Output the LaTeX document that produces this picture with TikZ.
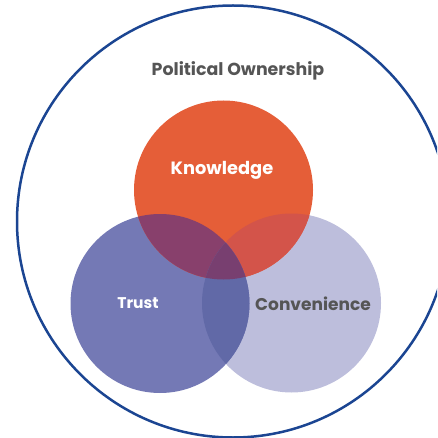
\documentclass[tikz,border=0pt]{standalone}
\usepackage{fontspec}
\setmainfont{Poppins}
\usepackage{tikz}

\definecolor{ring}{HTML}{1B4592}
\definecolor{knowfill}{HTML}{E55E38}
\definecolor{trustfill}{HTML}{7479B5}
\definecolor{convfill}{HTML}{BDBEDC}
\definecolor{kt}{HTML}{88406C}
\definecolor{kc}{HTML}{D3544A}
\definecolor{tc}{HTML}{6169A7}
\definecolor{ktc}{HTML}{783F70}
\definecolor{labelgrey}{HTML}{555555}

\begin{document}
\begin{tikzpicture}[x=1pt,y=-1pt,
	set/.style={circle, minimum size=179pt, inner sep=0pt}]
\useasboundingbox (0,0) rectangle (437,438);
\clip (0,0) rectangle (437,438);
\node [circle, draw=ring, line width=2.5pt, minimum size=432pt, inner sep=0pt] (own) at (233,221.5) {};
\node [text=labelgrey, font=\bfseries\fontsize{17.4}{20}\selectfont] (title) at (238,71) {Political Ownership};
\node [set, fill=convfill] (conv) at (291.5,303) {};
\node [set, fill=trustfill] (trust) at (160,303.5) {};
\node [set, fill=knowfill] (know) at (223.5,190) {};
% overlaps
\begin{scope}
	\clip (know) circle (89.5pt);
	\fill [kc] (conv) circle (89.5pt);
	\fill [kt] (trust) circle (89.5pt);
\end{scope}
\begin{scope}
	\clip (trust) circle (89.5pt);
	\fill [tc] (conv) circle (89.5pt);
	\clip (know) circle (89.5pt);
	\fill [ktc] (conv) circle (89.5pt);
\end{scope}
\node [text=white, font=\bfseries\fontsize{17.8}{20}\selectfont] (knowtext) at (222,170) {Knowledge};
\node [text=white, font=\bfseries\fontsize{15.5}{18}\selectfont] (trusttext) at (138,303) {Trust};
\node [text=labelgrey, font=\bfseries\fontsize{17}{20}\selectfont] (convtext) at (313,304) {Convenience};
\end{tikzpicture}
\end{document}
